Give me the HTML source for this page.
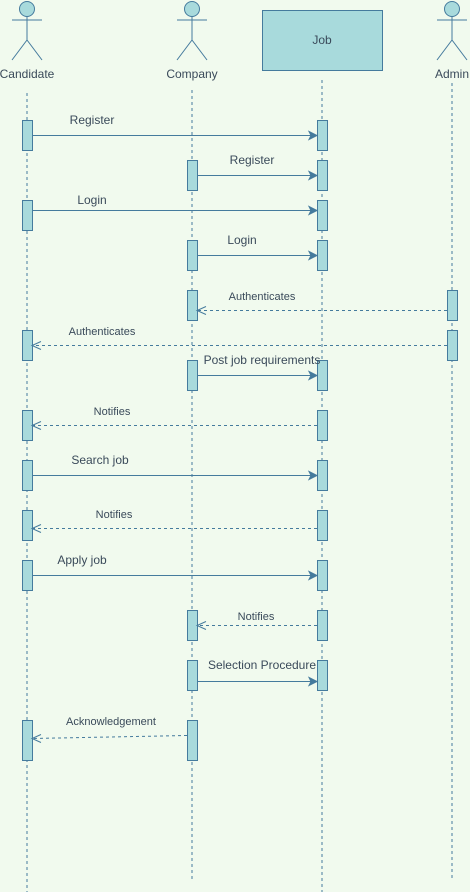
<!DOCTYPE html>
<html><head><meta charset="utf-8"><style>
html,body{margin:0;padding:0;background:#f1faee;}
svg{display:block;font-family:"Liberation Sans",sans-serif;}
</style></head><body>
<svg id="d" width="470" height="892" viewBox="0 0 470 892">
<rect width="470" height="892" fill="#f1faee"/>
<g id="life"></g><g id="acts"></g><g id="msgs"></g><g id="heads"></g>
</svg>
<script>
const participants=["Candidate","Company","Job","Admin"];
const partX=[27,192,322,452];
const lifeTop=[93,90,80,83];
const lifeBottom=[892,880,892,880];
const msgLabels=["Register","Register","Login","Login","Authenticates","Authenticates","Post job requirements","Notifies","Search job","Notifies","Apply job","Notifies","Selection Procedure","Acknowledgement"];
const msgFrom=[0,1,0,1,3,3,1,2,0,2,0,2,1,1];
const msgTo=[2,2,2,2,1,0,2,0,2,0,2,1,2,0];
const msgY=[135,175,210,255,310,345,375,425,475,528,575,625,681,738];
const msgReturn=[0,0,0,0,1,1,0,1,0,1,0,1,0,1];
const actTop=[120,160,200,240,290,330,360,410,460,510,560,610,660,720];
const actBottom=[150,190,230,270,320,360,390,440,490,540,590,640,690,760];
const labelX=[92,252,92,242,262,102,262,112,100,114,82,256,262,111];
const labelY=[124,164,204,244,300,335,364,415,464,518,564,620,669,725];
const NS="http://www.w3.org/2000/svg";
const S="#457b9d",F="#a8dadc",T="#3a4a5a";
function mk(tag,attrs,parent){const e=document.createElementNS(NS,tag);for(const k in attrs)e.setAttribute(k,attrs[k]);document.getElementById(parent).appendChild(e);return e;}
participants.forEach((p,i)=>{
  const x=partX[i];
  const l=mk("line",{x1:x,y1:lifeTop[i],x2:x,y2:lifeBottom[i],stroke:S,"stroke-dasharray":"3,3"},"life");
  
  
  if(p==="Job"){
    const r=mk("rect",{x:262.5,y:10.5,width:120,height:60,fill:F,stroke:S},"heads");
    
    
    const t=mk("text",{x:322,y:44,"text-anchor":"middle","font-size":12,fill:T},"heads");t.textContent=p;
    
    
  }else{
    const g=mk("g",{fill:"none",stroke:S},"heads");
    
    
    g.innerHTML=`<circle cx="${x}" cy="9" r="7.5" fill="${F}"/><line x1="${x}" y1="16.5" x2="${x}" y2="40"/><line x1="${x-15}" y1="20" x2="${x+15}" y2="20"/><line x1="${x}" y1="40" x2="${x-15}" y2="60"/><line x1="${x}" y1="40" x2="${x+15}" y2="60"/>`;
    const t=mk("text",{x:x,y:78,"text-anchor":"middle","font-size":12,fill:T},"heads");t.textContent=p;
    
    
  }
});
msgLabels.forEach((lab,i)=>{
  [msgFrom[i],msgTo[i]].forEach((pi,j)=>{
    const r=mk("rect",{x:partX[pi]-4.5,y:actTop[i]+0.5,width:10,height:actBottom[i]-actTop[i],fill:F,stroke:S},"acts");
    
    
  });
  const fx=partX[msgFrom[i]],tx=partX[msgTo[i]];
  const dir=tx>fx?1:-1;
  const x1=fx+dir*5, x2=tx-dir*5, y=msgY[i]+0.5;
  const g=mk("g",{},"msgs");
  
  
  const ln=document.createElementNS(NS,"line");
  ln.setAttribute("x1",x1);ln.setAttribute("y1",msgReturn[i]&&i===13?y-3:y);ln.setAttribute("x2",x2);ln.setAttribute("y2",y);
  ln.setAttribute("stroke",S);
  if(msgReturn[i])ln.setAttribute("stroke-dasharray","3,3");
  g.appendChild(ln);
  const ah=document.createElementNS(NS,"path");
  if(msgReturn[i]){
    ah.setAttribute("d",`M${x2-dir*9},${y-4} L${x2},${y} L${x2-dir*9},${y+4}`);
    ah.setAttribute("fill","none");
  }else{
    ah.setAttribute("d",`M${x2-dir*8},${y-4} L${x2},${y} L${x2-dir*8},${y+4} L${x2-dir*6},${y} Z`);
    ah.setAttribute("fill",S);
  }
  ah.setAttribute("stroke",S);
  g.appendChild(ah);
  const t=document.createElementNS(NS,"text");
  t.setAttribute("x",labelX[i]);t.setAttribute("y",labelY[i]);
  t.setAttribute("text-anchor","middle");
  t.setAttribute("font-size",msgReturn[i]?11:12);
  t.setAttribute("fill",T);
  t.textContent=lab;
  g.appendChild(t);
});
</script>
</body></html>
